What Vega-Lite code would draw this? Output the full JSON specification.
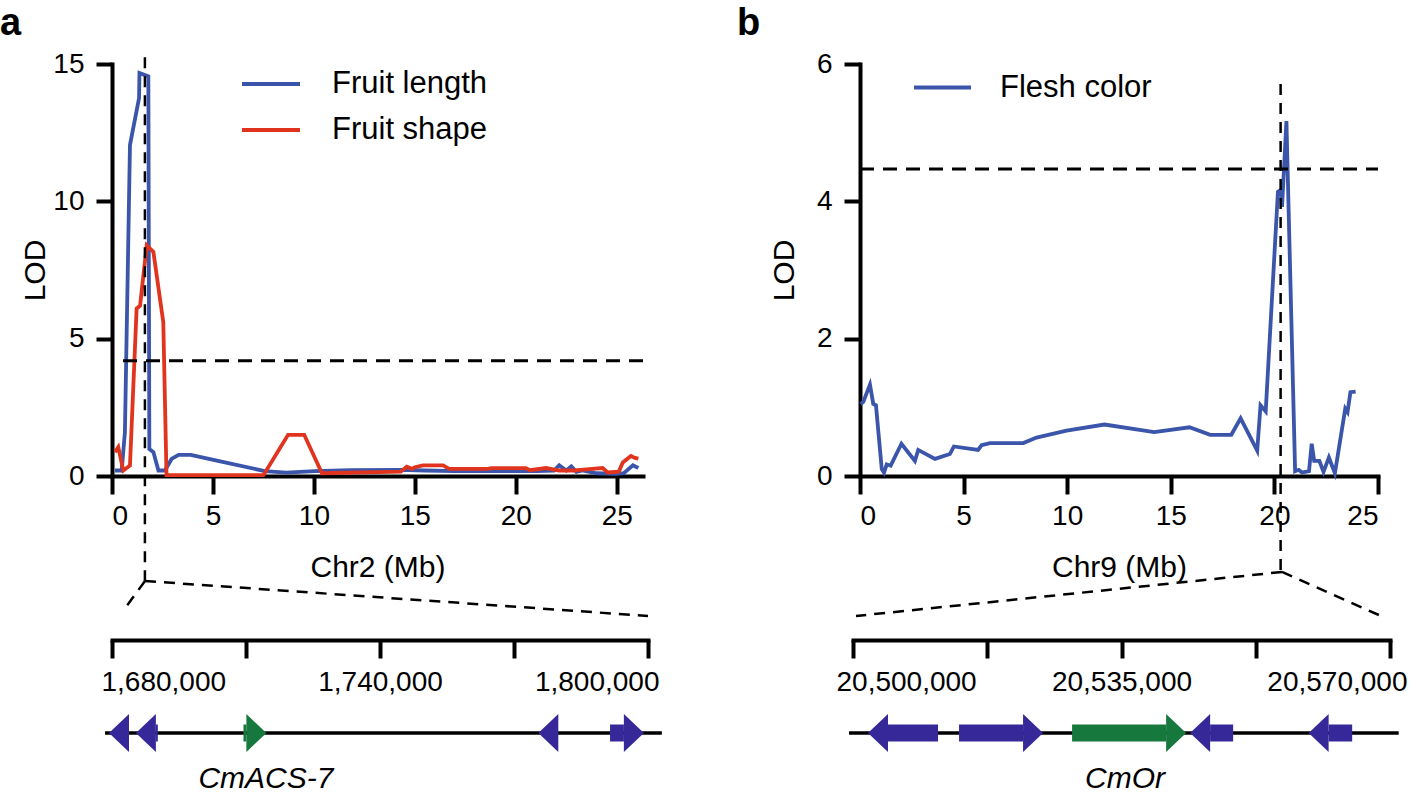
{
  "$schema": "https://vega.github.io/schema/vega-lite/v6.json",
  "background": "white",
  "padding": {"top": 5, "left": 0, "right": 0, "bottom": 0},
  "autosize": {"type": "pad"},
  "bounds": "flush",
  "align": "each",
  "columns": 2,
  "spacing": {"row": 69, "column": 205},
  "resolve": {"scale": {"x": "independent", "y": "independent", "color": "independent", "shape": "independent"}},
  "datasets": {
    "qtlA": [
      {"trait": "Fruit length", "pos": 0.15, "lod": 0.2},
      {"trait": "Fruit length", "pos": 0.48, "lod": 0.2},
      {"trait": "Fruit length", "pos": 0.64, "lod": 1.6},
      {"trait": "Fruit length", "pos": 0.89, "lod": 12.05},
      {"trait": "Fruit length", "pos": 1.34, "lod": 13.76},
      {"trait": "Fruit length", "pos": 1.36, "lod": 14.67},
      {"trait": "Fruit length", "pos": 1.8, "lod": 14.55},
      {"trait": "Fruit length", "pos": 1.85, "lod": 0.98},
      {"trait": "Fruit length", "pos": 2.05, "lod": 0.87},
      {"trait": "Fruit length", "pos": 2.3, "lod": 0.2},
      {"trait": "Fruit length", "pos": 2.62, "lod": 0.2},
      {"trait": "Fruit length", "pos": 2.95, "lod": 0.62},
      {"trait": "Fruit length", "pos": 3.3, "lod": 0.77},
      {"trait": "Fruit length", "pos": 3.9, "lod": 0.77},
      {"trait": "Fruit length", "pos": 5.25, "lod": 0.55},
      {"trait": "Fruit length", "pos": 7.56, "lod": 0.18},
      {"trait": "Fruit length", "pos": 8.63, "lod": 0.12},
      {"trait": "Fruit length", "pos": 10.05, "lod": 0.18},
      {"trait": "Fruit length", "pos": 11.8, "lod": 0.21},
      {"trait": "Fruit length", "pos": 14.3, "lod": 0.22},
      {"trait": "Fruit length", "pos": 15.5, "lod": 0.2},
      {"trait": "Fruit length", "pos": 17.0, "lod": 0.18},
      {"trait": "Fruit length", "pos": 19.0, "lod": 0.18},
      {"trait": "Fruit length", "pos": 21.0, "lod": 0.18},
      {"trait": "Fruit length", "pos": 21.9, "lod": 0.2},
      {"trait": "Fruit length", "pos": 22.15, "lod": 0.39},
      {"trait": "Fruit length", "pos": 22.5, "lod": 0.2},
      {"trait": "Fruit length", "pos": 22.75, "lod": 0.35},
      {"trait": "Fruit length", "pos": 23.0, "lod": 0.15},
      {"trait": "Fruit length", "pos": 23.3, "lod": 0.2},
      {"trait": "Fruit length", "pos": 24.0, "lod": 0.1},
      {"trait": "Fruit length", "pos": 25.0, "lod": 0.08},
      {"trait": "Fruit length", "pos": 25.35, "lod": 0.1},
      {"trait": "Fruit length", "pos": 25.8, "lod": 0.39},
      {"trait": "Fruit length", "pos": 26.07, "lod": 0.29},
      {"trait": "Fruit shape", "pos": 0.15, "lod": 0.87},
      {"trait": "Fruit shape", "pos": 0.31, "lod": 1.05},
      {"trait": "Fruit shape", "pos": 0.56, "lod": 0.2},
      {"trait": "Fruit shape", "pos": 0.89, "lod": 0.38},
      {"trait": "Fruit shape", "pos": 1.22, "lod": 6.1},
      {"trait": "Fruit shape", "pos": 1.39, "lod": 6.2},
      {"trait": "Fruit shape", "pos": 1.72, "lod": 8.4},
      {"trait": "Fruit shape", "pos": 2.05, "lod": 8.16},
      {"trait": "Fruit shape", "pos": 2.54, "lod": 5.6},
      {"trait": "Fruit shape", "pos": 2.7, "lod": 0.03},
      {"trait": "Fruit shape", "pos": 7.5, "lod": 0.03},
      {"trait": "Fruit shape", "pos": 8.72, "lod": 1.5},
      {"trait": "Fruit shape", "pos": 9.52, "lod": 1.5},
      {"trait": "Fruit shape", "pos": 10.4, "lod": 0.1},
      {"trait": "Fruit shape", "pos": 14.3, "lod": 0.16},
      {"trait": "Fruit shape", "pos": 14.6, "lod": 0.34},
      {"trait": "Fruit shape", "pos": 14.86, "lod": 0.26},
      {"trait": "Fruit shape", "pos": 15.0, "lod": 0.32},
      {"trait": "Fruit shape", "pos": 15.4, "lod": 0.39},
      {"trait": "Fruit shape", "pos": 16.4, "lod": 0.39},
      {"trait": "Fruit shape", "pos": 16.7, "lod": 0.26},
      {"trait": "Fruit shape", "pos": 18.6, "lod": 0.26},
      {"trait": "Fruit shape", "pos": 18.8, "lod": 0.29},
      {"trait": "Fruit shape", "pos": 20.5, "lod": 0.29},
      {"trait": "Fruit shape", "pos": 20.7, "lod": 0.21},
      {"trait": "Fruit shape", "pos": 21.5, "lod": 0.29},
      {"trait": "Fruit shape", "pos": 22.15, "lod": 0.2},
      {"trait": "Fruit shape", "pos": 22.9, "lod": 0.2},
      {"trait": "Fruit shape", "pos": 23.5, "lod": 0.24},
      {"trait": "Fruit shape", "pos": 24.3, "lod": 0.29},
      {"trait": "Fruit shape", "pos": 24.55, "lod": 0.13},
      {"trait": "Fruit shape", "pos": 25.1, "lod": 0.16},
      {"trait": "Fruit shape", "pos": 25.3, "lod": 0.49},
      {"trait": "Fruit shape", "pos": 25.7, "lod": 0.73},
      {"trait": "Fruit shape", "pos": 25.9, "lod": 0.66},
      {"trait": "Fruit shape", "pos": 26.07, "lod": 0.63}
    ],
    "qtlB": [
      {"trait": "Flesh color", "pos": 0.03, "lod": 1.05},
      {"trait": "Flesh color", "pos": 0.16, "lod": 1.08},
      {"trait": "Flesh color", "pos": 0.48, "lod": 1.33},
      {"trait": "Flesh color", "pos": 0.64, "lod": 1.05},
      {"trait": "Flesh color", "pos": 0.77, "lod": 1.03},
      {"trait": "Flesh color", "pos": 1.05, "lod": 0.1},
      {"trait": "Flesh color", "pos": 1.16, "lod": 0.05},
      {"trait": "Flesh color", "pos": 1.29, "lod": 0.17},
      {"trait": "Flesh color", "pos": 1.48, "lod": 0.15},
      {"trait": "Flesh color", "pos": 2.0, "lod": 0.47},
      {"trait": "Flesh color", "pos": 2.65, "lod": 0.22},
      {"trait": "Flesh color", "pos": 2.81, "lod": 0.38},
      {"trait": "Flesh color", "pos": 3.62, "lod": 0.25},
      {"trait": "Flesh color", "pos": 4.34, "lod": 0.32},
      {"trait": "Flesh color", "pos": 4.53, "lod": 0.43},
      {"trait": "Flesh color", "pos": 5.7, "lod": 0.38},
      {"trait": "Flesh color", "pos": 5.87, "lod": 0.45},
      {"trait": "Flesh color", "pos": 6.27, "lod": 0.48},
      {"trait": "Flesh color", "pos": 7.88, "lod": 0.48},
      {"trait": "Flesh color", "pos": 8.52, "lod": 0.56},
      {"trait": "Flesh color", "pos": 9.97, "lod": 0.66},
      {"trait": "Flesh color", "pos": 11.8, "lod": 0.75},
      {"trait": "Flesh color", "pos": 14.2, "lod": 0.64},
      {"trait": "Flesh color", "pos": 15.9, "lod": 0.71},
      {"trait": "Flesh color", "pos": 16.9, "lod": 0.6},
      {"trait": "Flesh color", "pos": 17.92, "lod": 0.6},
      {"trait": "Flesh color", "pos": 18.37, "lod": 0.84},
      {"trait": "Flesh color", "pos": 19.17, "lod": 0.37},
      {"trait": "Flesh color", "pos": 19.33, "lod": 1.03},
      {"trait": "Flesh color", "pos": 19.58, "lod": 0.94},
      {"trait": "Flesh color", "pos": 20.17, "lod": 4.14},
      {"trait": "Flesh color", "pos": 20.33, "lod": 4.17},
      {"trait": "Flesh color", "pos": 20.37, "lod": 3.92},
      {"trait": "Flesh color", "pos": 20.58, "lod": 5.17},
      {"trait": "Flesh color", "pos": 21.0, "lod": 0.07},
      {"trait": "Flesh color", "pos": 21.17, "lod": 0.09},
      {"trait": "Flesh color", "pos": 21.33, "lod": 0.05},
      {"trait": "Flesh color", "pos": 21.67, "lod": 0.07},
      {"trait": "Flesh color", "pos": 21.8, "lod": 0.47},
      {"trait": "Flesh color", "pos": 21.92, "lod": 0.22},
      {"trait": "Flesh color", "pos": 22.17, "lod": 0.22},
      {"trait": "Flesh color", "pos": 22.37, "lod": 0.06},
      {"trait": "Flesh color", "pos": 22.63, "lod": 0.27},
      {"trait": "Flesh color", "pos": 22.92, "lod": 0.04},
      {"trait": "Flesh color", "pos": 23.42, "lod": 0.98},
      {"trait": "Flesh color", "pos": 23.53, "lod": 0.93},
      {"trait": "Flesh color", "pos": 23.67, "lod": 1.22},
      {"trait": "Flesh color", "pos": 23.92, "lod": 1.23}
    ],
    "connA": [
      {"x": 1687389, "y": 0.621, "x2": 1682463, "y2": 0.305},
      {"x": 1687389, "y": 0.621, "x2": 1800000, "y2": 0.253}
    ],
    "connB": [
      {"x": 20555920, "y": 0.716, "x2": 20500391, "y2": 0.253},
      {"x": 20555920, "y": 0.716, "x2": 20568829, "y2": 0.253}
    ],
    "genesA": [
      {"from": 1679331, "to": 1683345, "strand": "-", "kind": "flanking", "name": null},
      {"from": 1685352, "to": 1690258, "strand": "-", "kind": "flanking", "name": null},
      {"from": 1709436, "to": 1714565, "strand": "+", "kind": "candidate", "name": "CmACS-7"},
      {"from": 1775444, "to": 1779904, "strand": "-", "kind": "flanking", "name": null},
      {"from": 1791500, "to": 1799082, "strand": "+", "kind": "flanking", "name": null}
    ],
    "genesB": [
      {"from": 20501956, "to": 20511084, "strand": "-", "kind": "flanking", "name": null},
      {"from": 20513822, "to": 20524776, "strand": "+", "kind": "flanking", "name": null},
      {"from": 20528558, "to": 20543423, "strand": "+", "kind": "candidate", "name": "CmOr"},
      {"from": 20543945, "to": 20549552, "strand": "-", "kind": "flanking", "name": null},
      {"from": 20559397, "to": 20565070, "strand": "-", "kind": "flanking", "name": null}
    ]
  },
  "concat": [
    {
      "width": 531,
      "height": 412,
      "title": {"text": "a", "anchor": "start", "frame": "group", "dx": -112, "offset": 7, "fontSize": 38, "fontWeight": "bold", "font": "Liberation Sans", "color": "black"},
      "layer": [
        {
          "data": {"name": "qtlA"},
          "mark": {"type": "line", "strokeWidth": 3.8},
          "encoding": {
            "x": {"field": "pos", "type": "quantitative", "scale": {"domain": [0, 26.3], "nice": false, "zero": false},
              "axis": {"values": [0, 5, 10, 15, 20, 25], "title": "Chr2 (Mb)", "tickSize": 18, "labelPadding": 8, "titlePadding": 22}},
            "y": {"field": "lod", "type": "quantitative", "scale": {"domain": [0, 15], "nice": false},
              "axis": {"values": [0, 5, 10, 15], "format": "d", "title": "LOD", "tickSize": 16, "labelPadding": 12, "titlePadding": 2}},
            "color": {"field": "trait", "type": "nominal",
              "scale": {"domain": ["Fruit length", "Fruit shape"], "range": ["#3A55AA", "#E0341E"]},
              "legend": {"title": null, "orient": "none", "legendX": 128, "legendY": -11, "symbolType": "stroke", "symbolSize": 3364, "symbolStrokeWidth": 4, "labelFontSize": 31, "labelOffset": 30, "rowPadding": -9, "padding": 0, "labelFont": "Liberation Sans", "labelColor": "black", "labelLimit": 400}}
          }
        },
        {
          "data": {"values": [{"lod": 4.2}]},
          "mark": {"type": "rule", "strokeDash": [14, 9], "strokeWidth": 3, "color": "black"},
          "encoding": {"y": {"field": "lod", "type": "quantitative"}}
        },
        {
          "data": {"values": [{"pos": 1.63}]},
          "mark": {"type": "rule", "strokeDash": [11, 8], "strokeWidth": 2.5, "color": "black"},
          "encoding": {"x": {"field": "pos", "type": "quantitative"}, "y": {"datum": 15.25, "type": "quantitative"}, "y2": {"datum": -3.82}}
        }
      ]
    },
    {
      "width": 525,
      "height": 412,
      "title": {"text": "b", "anchor": "start", "frame": "group", "dx": -116, "offset": 7, "fontSize": 38, "fontWeight": "bold", "font": "Liberation Sans", "color": "black"},
      "layer": [
        {
          "data": {"name": "qtlB"},
          "mark": {"type": "line", "strokeWidth": 3.8},
          "encoding": {
            "x": {"field": "pos", "type": "quantitative", "scale": {"domain": [0, 25], "nice": false, "zero": false, "range": [7, 525]},
              "axis": {"values": [0, 5, 10, 15, 20, 25], "title": "Chr9 (Mb)", "tickSize": 18, "labelPadding": 8, "titlePadding": 22}},
            "y": {"field": "lod", "type": "quantitative", "scale": {"domain": [0, 6], "nice": false},
              "axis": {"values": [0, 2, 4, 6], "format": "d", "title": "LOD", "offset": -7, "tickSize": 16, "labelPadding": 12, "titlePadding": 17}},
            "color": {"field": "trait", "type": "nominal",
              "scale": {"domain": ["Flesh color"], "range": ["#3A55AA"]},
              "legend": {"title": null, "orient": "none", "legendX": 59, "legendY": -7, "symbolType": "stroke", "symbolSize": 3249, "symbolStrokeWidth": 4, "labelFontSize": 31, "labelOffset": 27, "rowPadding": -9, "padding": 0, "labelFont": "Liberation Sans", "labelColor": "black", "labelLimit": 400}}
          }
        },
        {
          "data": {"values": [{"lod": 4.47}]},
          "mark": {"type": "rule", "strokeDash": [14, 9], "strokeWidth": 3, "color": "black"},
          "encoding": {"y": {"field": "lod", "type": "quantitative"}, "x": {"datum": 0, "type": "quantitative"}, "x2": {"datum": 25}}
        },
        {
          "data": {"values": [{"pos": 20.3}]},
          "mark": {"type": "rule", "strokeDash": [11, 8], "strokeWidth": 2.5, "color": "black"},
          "encoding": {"x": {"field": "pos", "type": "quantitative"}, "y": {"datum": 5.71, "type": "quantitative"}, "y2": {"datum": -1.4}}
        }
      ]
    },
    {
      "width": 536,
      "height": 95,
      "data": {"name": "connA"},
      "mark": {"type": "rule", "strokeDash": [11, 8], "strokeWidth": 2.5, "color": "black"},
      "encoding": {
        "x": {"field": "x", "type": "quantitative", "scale": {"domain": [1680000, 1800000], "nice": false, "zero": false},
          "axis": {"orient": "bottom", "values": [1680000, 1710000, 1740000, 1770000, 1800000], "format": ",d",
            "labelExpr": "(datum.value - 1680000) % 60000 == 0 ? datum.label : ''", "title": null, "tickSize": 18, "labelPadding": 10, "labelFlush": true, "labelFlushOffset": 11}},
        "x2": {"field": "x2"},
        "y": {"field": "y", "type": "quantitative", "scale": {"domain": [0, 1]}, "axis": null},
        "y2": {"field": "y2"}
      }
    },
    {
      "width": 537,
      "height": 95,
      "data": {"name": "connB"},
      "mark": {"type": "rule", "strokeDash": [11, 8], "strokeWidth": 2.5, "color": "black"},
      "encoding": {
        "x": {"field": "x", "type": "quantitative", "scale": {"domain": [20500000, 20570000], "nice": false, "zero": false},
          "axis": {"orient": "bottom", "values": [20500000, 20517500, 20535000, 20552500, 20570000], "format": ",d",
            "labelExpr": "(datum.value - 20500000) % 35000 == 0 ? datum.label : ''", "title": null, "tickSize": 18, "labelPadding": 10, "labelFlush": true, "labelFlushOffset": 17}},
        "x2": {"field": "x2"},
        "y": {"field": "y", "type": "quantitative", "scale": {"domain": [0, 1]}, "axis": null},
        "y2": {"field": "y2"}
      }
    },
    {
      "width": 536,
      "height": 48,
      "data": {"name": "genesA"},
      "layer": [
        {
          "data": {"values": [{"from": 1678440, "to": 1803100}]},
          "mark": {"type": "rule", "strokeWidth": 3.5, "color": "black"},
          "encoding": {
            "x": {"field": "from", "type": "quantitative", "scale": {"domain": [1680000, 1800000], "nice": false, "zero": false}, "axis": null},
            "x2": {"field": "to"},
            "y": {"datum": 0.5, "type": "quantitative", "scale": {"domain": [0, 1]}, "axis": null}
          }
        },
        {
          "transform": [
            {"calculate": "datum.strand == '+' ? datum.from : datum.from + 4478", "as": "b0"},
            {"calculate": "datum.strand == '+' ? datum.to - 4478 : datum.to", "as": "b1"},
            {"filter": "datum.b1 > datum.b0"}
          ],
          "mark": {"type": "rect"},
          "encoding": {
            "x": {"field": "b0", "type": "quantitative", "axis": null},
            "x2": {"field": "b1"},
            "y": {"datum": 0.323, "type": "quantitative", "axis": null},
            "y2": {"datum": 0.677},
            "color": {"field": "kind", "type": "nominal", "scale": {"domain": ["flanking", "candidate"], "range": ["#37289A", "#16783C"]}, "legend": null}
          }
        },
        {
          "transform": [{"calculate": "datum.strand == '+' ? datum.to - 2239 : datum.from + 2239", "as": "head"}],
          "mark": {"type": "point", "filled": true, "size": 1444, "opacity": 1, "strokeWidth": 0},
          "encoding": {
            "x": {"field": "head", "type": "quantitative", "axis": null},
            "y": {"datum": 0.5, "type": "quantitative", "axis": null},
            "shape": {"field": "strand", "type": "nominal", "scale": {"domain": ["+", "-"], "range": ["M-0.526,-1L0.526,0L-0.526,1Z", "M0.526,-1L-0.526,0L0.526,1Z"]}, "legend": null},
            "color": {"field": "kind", "type": "nominal", "scale": {"domain": ["flanking", "candidate"], "range": ["#37289A", "#16783C"]}, "legend": null}
          }
        },
        {
          "transform": [{"filter": "datum.name != null"}, {"calculate": "(datum.from + datum.to) / 2", "as": "mid"}],
          "mark": {"type": "text", "font": "Liberation Sans", "fontStyle": "italic", "fontSize": 30, "dy": 46, "dx": 11, "color": "black"},
          "encoding": {
            "x": {"field": "mid", "type": "quantitative", "axis": null},
            "y": {"datum": 0.5, "type": "quantitative", "axis": null},
            "text": {"field": "name"}
          }
        }
      ]
    },
    {
      "width": 537,
      "height": 48,
      "data": {"name": "genesB"},
      "layer": [
        {
          "data": {"values": [{"from": 20499478, "to": 20571132}]},
          "mark": {"type": "rule", "strokeWidth": 3.5, "color": "black"},
          "encoding": {
            "x": {"field": "from", "type": "quantitative", "scale": {"domain": [20500000, 20570000], "nice": false, "zero": false}, "axis": null},
            "x2": {"field": "to"},
            "y": {"datum": 0.5, "type": "quantitative", "scale": {"domain": [0, 1]}, "axis": null}
          }
        },
        {
          "transform": [
            {"calculate": "datum.strand == '+' ? datum.from : datum.from + 2607", "as": "b0"},
            {"calculate": "datum.strand == '+' ? datum.to - 2607 : datum.to", "as": "b1"},
            {"filter": "datum.b1 > datum.b0"}
          ],
          "mark": {"type": "rect"},
          "encoding": {
            "x": {"field": "b0", "type": "quantitative", "axis": null},
            "x2": {"field": "b1"},
            "y": {"datum": 0.323, "type": "quantitative", "axis": null},
            "y2": {"datum": 0.677},
            "color": {"field": "kind", "type": "nominal", "scale": {"domain": ["flanking", "candidate"], "range": ["#37289A", "#16783C"]}, "legend": null}
          }
        },
        {
          "transform": [{"calculate": "datum.strand == '+' ? datum.to - 1303 : datum.from + 1303", "as": "head"}],
          "mark": {"type": "point", "filled": true, "size": 1444, "opacity": 1, "strokeWidth": 0},
          "encoding": {
            "x": {"field": "head", "type": "quantitative", "axis": null},
            "y": {"datum": 0.5, "type": "quantitative", "axis": null},
            "shape": {"field": "strand", "type": "nominal", "scale": {"domain": ["+", "-"], "range": ["M-0.526,-1L0.526,0L-0.526,1Z", "M0.526,-1L-0.526,0L0.526,1Z"]}, "legend": null},
            "color": {"field": "kind", "type": "nominal", "scale": {"domain": ["flanking", "candidate"], "range": ["#37289A", "#16783C"]}, "legend": null}
          }
        },
        {
          "transform": [{"filter": "datum.name != null"}, {"calculate": "(datum.from + datum.to) / 2", "as": "mid"}],
          "mark": {"type": "text", "font": "Liberation Sans", "fontStyle": "italic", "fontSize": 30, "dy": 46, "dx": -4, "color": "black"},
          "encoding": {
            "x": {"field": "mid", "type": "quantitative", "axis": null},
            "y": {"datum": 0.5, "type": "quantitative", "axis": null},
            "text": {"field": "name"}
          }
        }
      ]
    }
  ],
  "config": {
    "view": {"stroke": null},
    "font": "Liberation Sans",
    "axis": {"grid": false, "domainColor": "black", "tickColor": "black", "labelColor": "black", "titleColor": "black",
      "labelFont": "Liberation Sans", "titleFont": "Liberation Sans", "titleFontWeight": "normal",
      "labelFontSize": 28, "titleFontSize": 30, "domainWidth": 4, "tickWidth": 4, "labelOverlap": false, "domainCap": "square"}
  }
}
